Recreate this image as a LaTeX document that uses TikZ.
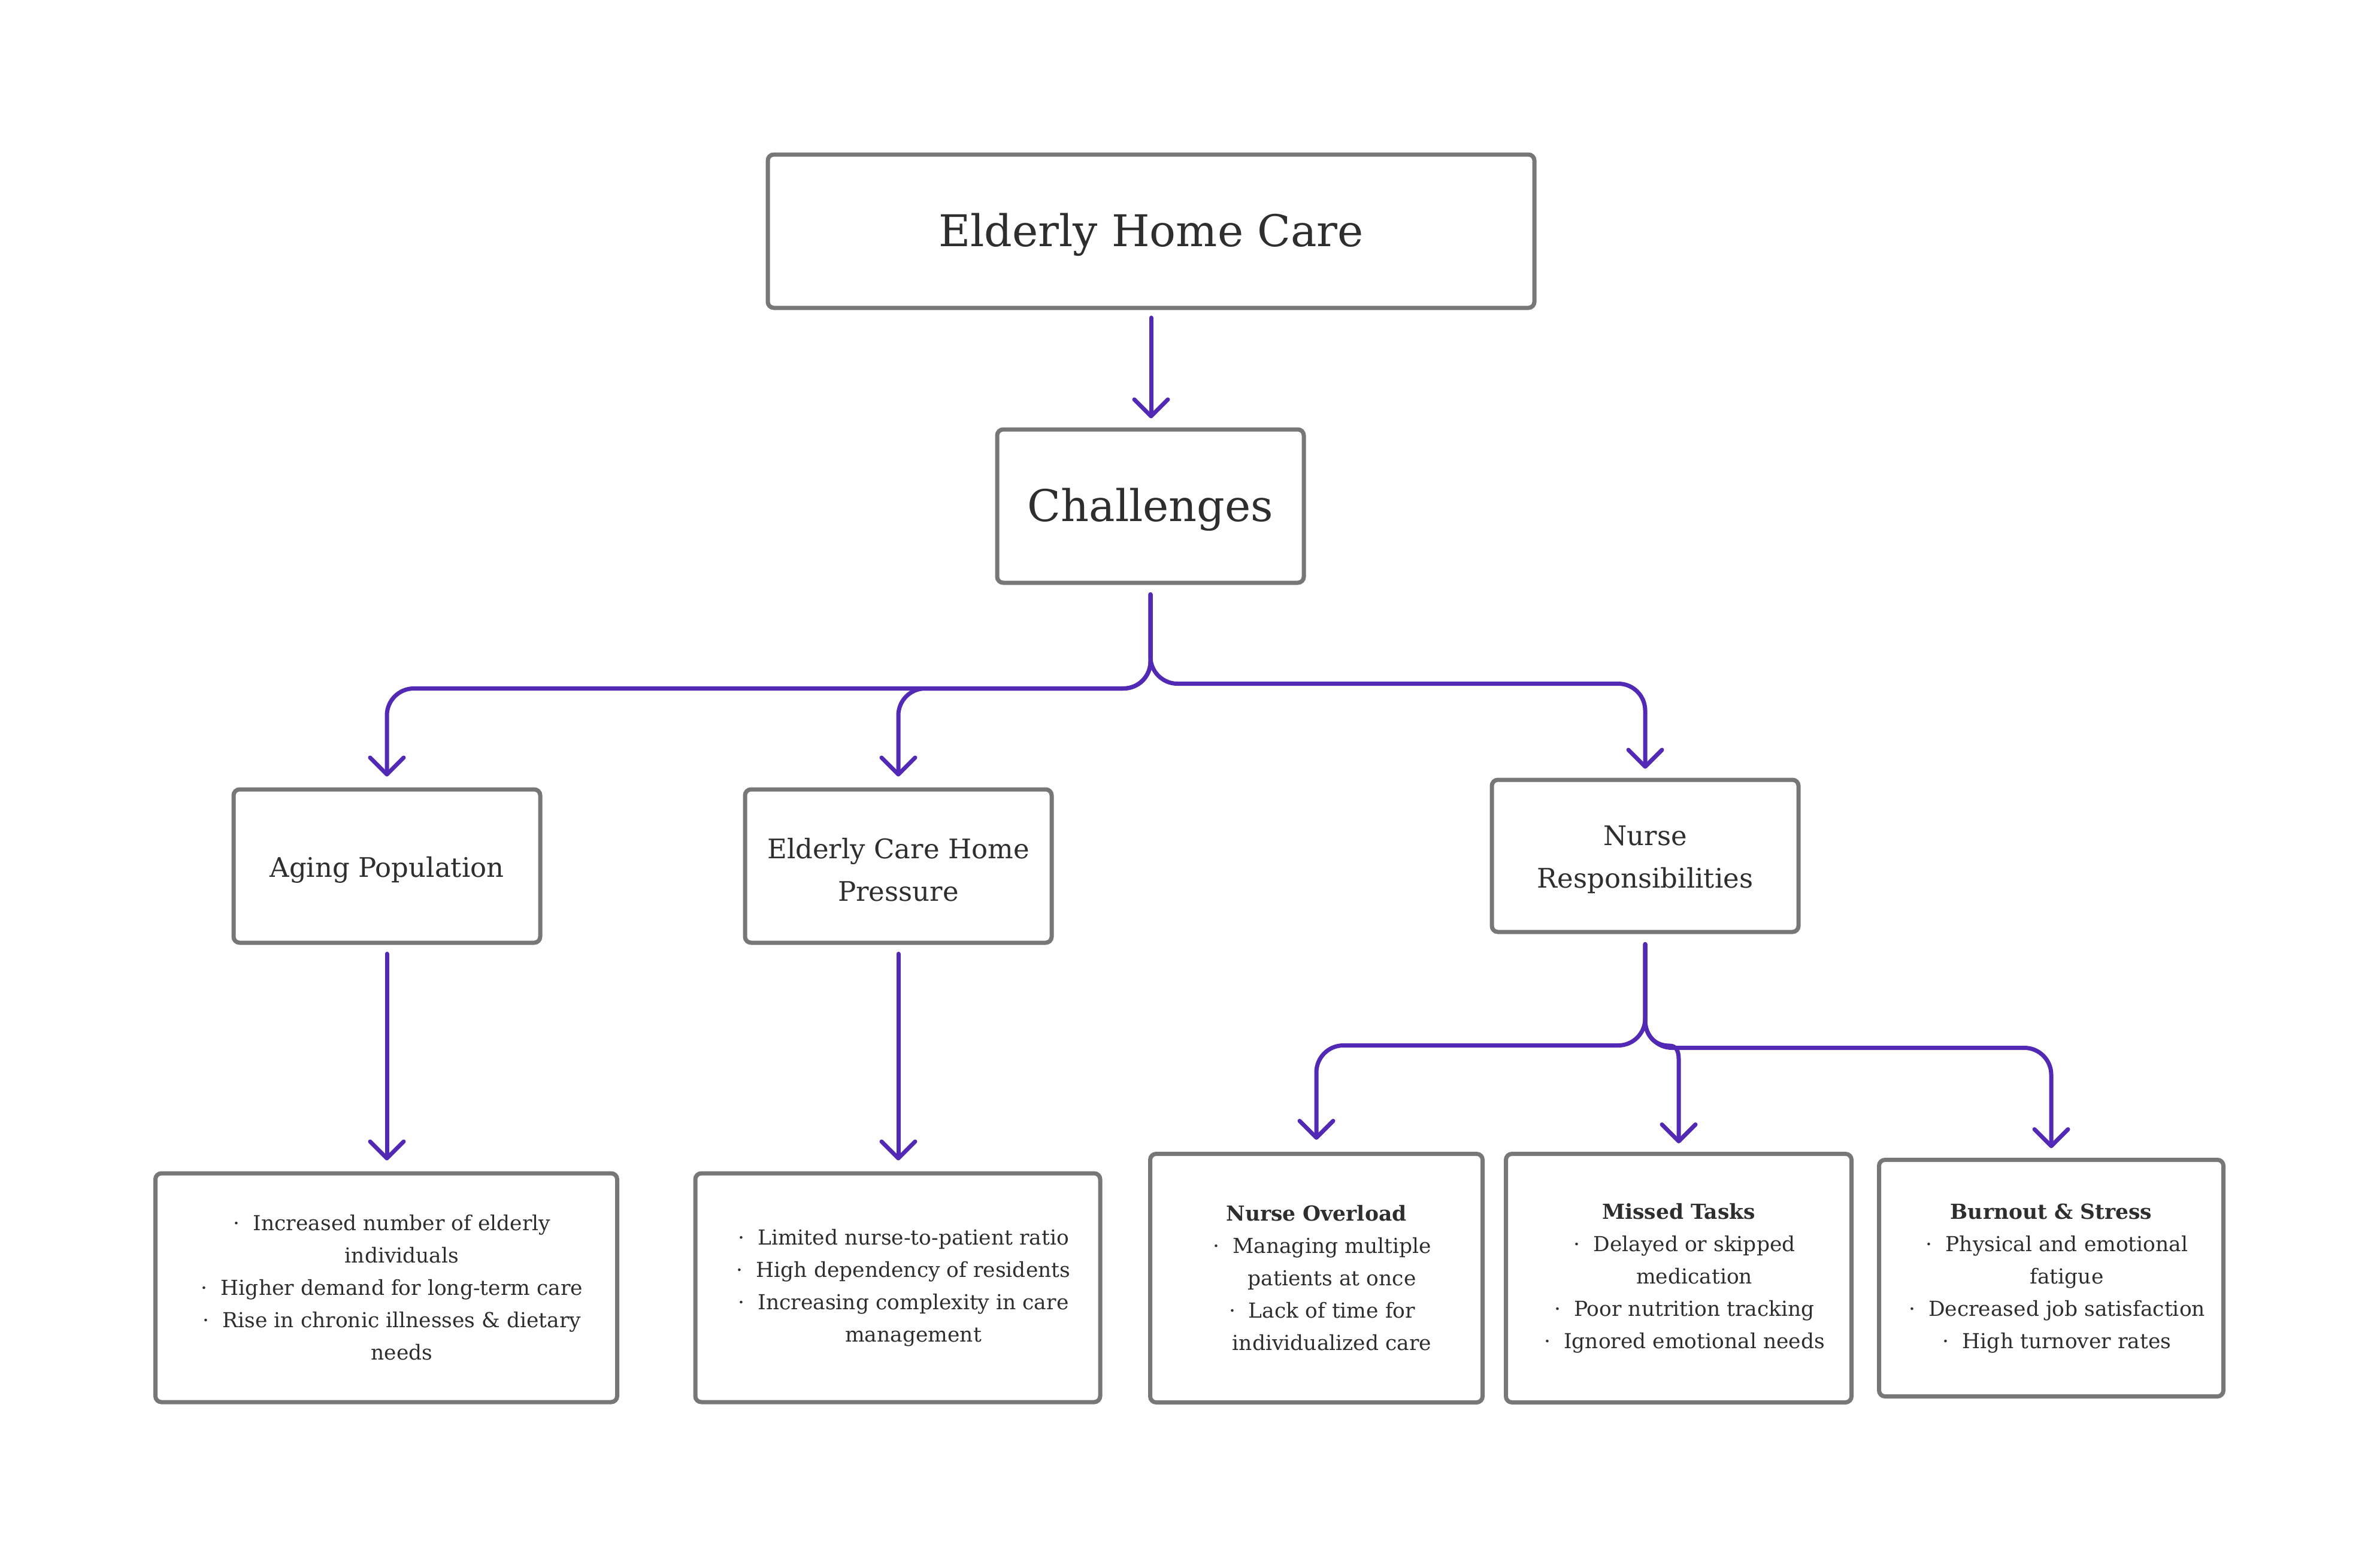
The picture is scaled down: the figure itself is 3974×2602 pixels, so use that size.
\documentclass[tikz,border=0pt]{standalone}
\usepackage{fontspec}
\setmainfont{DejaVu Serif}
\usetikzlibrary{arrows.meta}
\definecolor{boxgray}{HTML}{777777}
\definecolor{arrpurple}{HTML}{5229B4}
\definecolor{txtgray}{HTML}{2E2E2E}
\newcommand{\bl}{\hspace*{52pt}\llap{·\ \ }}
\newcommand{\cl}{\hspace*{52pt}}
\newcommand{\lw}[1]{\raisebox{-6pt}[\height][\depth]{#1}}
\tikzset{
  box/.style={draw=boxgray, line width=7pt, rounded corners=10pt, fill=white,
    inner sep=0pt, align=center, text=txtgray},
  bigtxt/.style={font={\fontsize{73}{88}\selectfont}},
  midtxt/.style={font={\fontsize{45}{71}\selectfont}},
  smalltxt/.style={font={\fontsize{34.5}{54}\selectfont}},
  conn/.style={draw=arrpurple, line width=7pt, line cap=round, line join=round,
    -{Straight Barb[length=28pt,width=56pt,round]}, rounded corners=45pt}
}
\begin{document}
\begin{tikzpicture}[x=1pt,y=-1pt]
\useasboundingbox (0,0) rectangle (3974,2602);
\fill[white] (0,0) rectangle (3974,2602);

\node[box, bigtxt, minimum width=1280pt, minimum height=256pt] (top) at (1922,386) {\lw{Elderly Home Care}};
\node[box, bigtxt, minimum width=512pt, minimum height=256pt] (ch) at (1921,845) {\lw{Challenges}};
\node[box, midtxt, minimum width=512pt, minimum height=256pt] (ag) at (646,1446) {\lw{Aging Population}};
\node[box, midtxt, minimum width=512pt, minimum height=256pt] (echp) at (1500,1446) {\lw{Elderly Care Home}\\\lw{Pressure}};
\node[box, midtxt, minimum width=512pt, minimum height=254pt] (nr) at (2747,1429) {\lw{Nurse}\\\lw{Responsibilities}};

\node[box, smalltxt, minimum width=771pt, minimum height=382pt] (b1) at (645,2150)
 {\bl Increased number of elderly\\\cl individuals\\\bl Higher demand for long-term care\\\bl Rise in chronic illnesses \& dietary\\\cl needs};
\node[box, smalltxt, minimum width=676pt, minimum height=382pt] (b2) at (1499,2150)
 {\bl Limited nurse-to-patient ratio\\\bl High dependency of residents\\\bl Increasing complexity in care\\\cl management};
\node[box, smalltxt, minimum width=555pt, minimum height=415pt] (no) at (2198,2134)
 {\textbf{Nurse Overload}\\\bl Managing multiple\\\cl patients at once\\\bl Lack of time for\\\cl individualized care};
\node[box, smalltxt, minimum width=577pt, minimum height=415pt] (mt) at (2803,2134)
 {\textbf{Missed Tasks}\\\bl Delayed or skipped\\\cl medication\\\bl Poor nutrition tracking\\\bl Ignored emotional needs};
\node[box, smalltxt, minimum width=575pt, minimum height=395pt] (bs) at (3425,2134)
 {\textbf{Burnout \& Stress}\\\bl Physical and emotional\\\cl fatigue\\\bl Decreased job satisfaction\\\bl High turnover rates};

\draw[conn, shorten <=13pt, shorten >=15pt] (top.south) -- (top.south |- ch.north);
\draw[conn, shorten <=16pt, shorten >=18pt] (ch.south) -- ++(0,173) -| (ag.north);
\draw[conn, shorten <=16pt, shorten >=18pt] (ch.south) -- ++(0,173) -| (echp.north);
\draw[conn, shorten <=16pt, shorten >=15pt] (ch.south) -- ++(0,165) -| (nr.north);

\draw[conn, shorten <=15pt, shorten >=18pt] (ag.south) -- (ag.south |- b1.north);
\draw[conn, shorten <=15pt, shorten >=18pt] (echp.south) -- (echp.south |- b2.north);

\draw[conn, shorten <=17pt, shorten >=20pt] (nr.south) -- ++(0,186) -| (no.north);
\draw[conn, rounded corners=0pt, shorten <=17pt, shorten >=14pt] (nr.south) -- (2747,1703)
  .. controls (2747,1728) and (2762,1746) .. (2788,1746)
  .. controls (2798,1746) and (2803,1754) .. (2803,1768) -- (mt.north);
\draw[conn, shorten <=17pt, shorten >=16pt] (nr.south) -- ++(0,190) -| (bs.north);
\end{tikzpicture}
\end{document}
